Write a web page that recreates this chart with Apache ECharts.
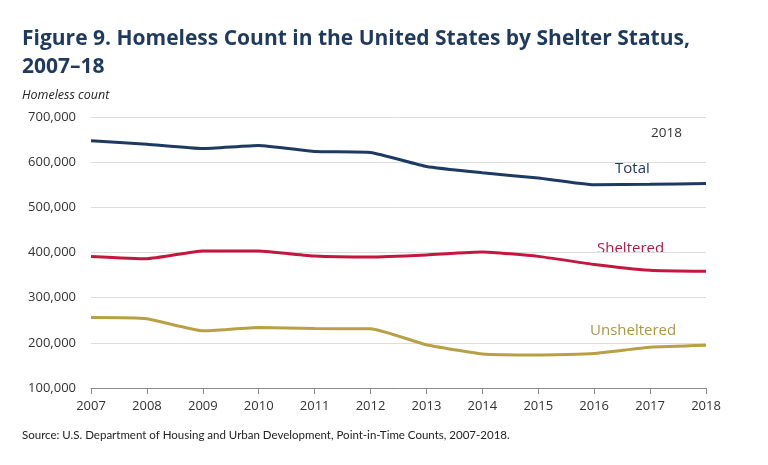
<!DOCTYPE html>
<html><head><meta charset="utf-8">
<script src="https://cdn.jsdelivr.net/npm/echarts@6/dist/echarts.min.js"></script>
<style>html,body{margin:0;padding:0;background:#fff}#c{width:768px;height:465px}</style>
</head><body><div id="c"></div>
<script>
const years = ['2007','2008','2009','2010','2011','2012','2013','2014','2015','2016','2017','2018'];
const total = [647258,639784,630227,637077,623788,621553,590364,576450,564708,549928,550996,552830];
const sheltered = [391401,386361,403543,403207,392316,390155,394698,401051,391440,373571,360867,358363];
const unsheltered = [255857,253423,226684,233870,231472,231398,195666,175399,173268,176357,190129,194467];

const chart = echarts.init(document.getElementById('c'));
const lineFont = 'Open Sans';
function mk(name, data, color){
  return {name, type:'line', data, smooth:0.15, symbol:'none',
    lineStyle:{width:3, color}, itemStyle:{color}, animation:false};
}
chart.setOption({
  animation:false,
  grid:{left:91, right:62, top:117, bottom:77, containLabel:false},
  xAxis:{type:'category', data:years, boundaryGap:false,
    axisLine:{lineStyle:{color:'#8a8a8a', width:1}},
    axisTick:{show:true, alignWithLabel:true, length:6, lineStyle:{color:'#8a8a8a'}},
    axisLabel:{color:'#333', fontSize:13, fontFamily:lineFont, margin:12},
    splitLine:{show:false}},
  yAxis:{type:'value', min:100000, max:700000, interval:100000,
    axisLine:{show:false}, axisTick:{show:false},
    axisLabel:{color:'#333', fontSize:13, fontFamily:lineFont, margin:15,
      formatter:v=>v.toLocaleString('en-US')},
    splitLine:{lineStyle:{color:'#dcdcdc', width:1}}},
  series:[
    mk('Total', total, '#1e3a63'),
    mk('Sheltered', sheltered, '#c41740'),
    mk('Unsheltered', unsheltered, '#b8a044')
  ],
  graphic:[
    {type:'text', left:22, top:29, style:{text:'Figure 9. Homeless Count in the United States by Shelter Status,', fill:'#1f3a5f', font:'bold 21px "Open Sans"'}},
    {type:'text', left:22, top:57, style:{text:'2007–18', fill:'#1f3a5f', font:'bold 21px "Open Sans"'}},
    {type:'text', left:22, top:89, style:{text:'Homeless count', fill:'#222', font:'italic 12.5px "Open Sans"'}},
    {type:'text', left:651, top:126, style:{text:'2018', fill:'#333', font:'13.5px "Open Sans"'}},
    {type:'text', left:615, top:161, style:{text:'Total', fill:'#1e3a63', font:'15px "Open Sans"'}},
    {type:'text', left:597, top:241, style:{text:'Sheltered', fill:'#b01a45', font:'15px "Open Sans"'}},
    {type:'text', left:590, top:323, style:{text:'Unsheltered', fill:'#a8964a', font:'15px "Open Sans"'}},
    {type:'text', left:22, top:429, style:{text:'Source: U.S. Department of Housing and Urban Development, Point-in-Time Counts, 2007-2018.', fill:'#222', font:'11.5px "Lato"'}}
  ]
});
</script></body></html>
